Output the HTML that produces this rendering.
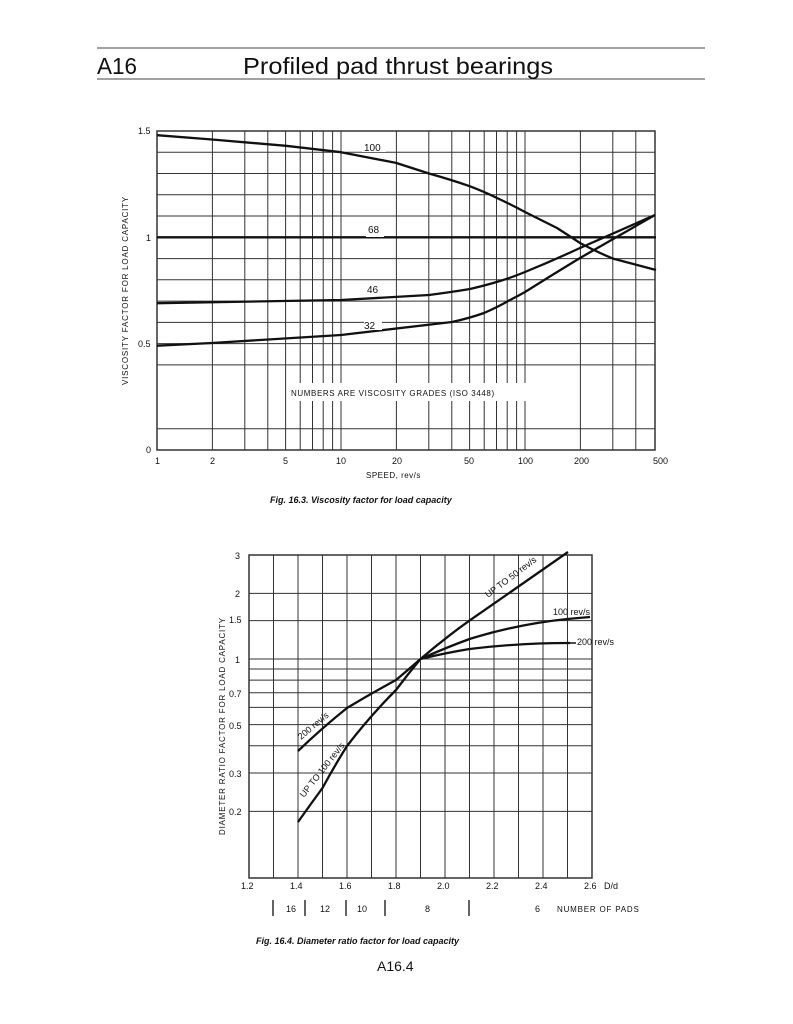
<!DOCTYPE html>
<html><head><meta charset="utf-8"><style>
html,body{margin:0;padding:0;background:#fff;}
svg{display:block;font-family:"Liberation Sans",sans-serif;}
</style></head><body>
<svg width="793" height="1024" viewBox="0 0 793 1024">
<line x1="97" y1="48" x2="705" y2="48" stroke="#444" stroke-width="1"/>
<line x1="97" y1="79" x2="705" y2="79" stroke="#444" stroke-width="1"/>
<text x="97" y="74" font-size="23" fill="#111" textLength="40" lengthAdjust="spacingAndGlyphs">A16</text>
<text x="243" y="74" font-size="23" fill="#111" textLength="310" lengthAdjust="spacingAndGlyphs">Profiled pad thrust bearings</text>

<!-- Chart 1 -->
<g stroke="#333" stroke-width="1" fill="none">
<path d="M157 152.2H655M157 173.5H655M157 194.8H655M157 216H655M157 258.6H655M157 279.8H655M157 301.1H655M157 322.4H655M157 343.6H655M157 364.9H655M157 428.7H655"/>
<path d="M212.4 131V450M244.8 131V450M267.8 131V450M285.6 131V450M300.2 131V450M312.5 131V450M323.2 131V450M332.6 131V450M341 131V450M396.4 131V450M428.8 131V450M451.8 131V450M469.6 131V450M484.2 131V450M496.5 131V450M507.2 131V450M516.6 131V450M525 131V450M580.4 131V450M612.8 131V450M635.8 131V450"/>
<rect x="157" y="131" width="498" height="319" stroke-width="1.5"/>
</g>
<rect x="288" y="383" width="254" height="18" fill="#fff"/>
<text x="291" y="396" font-size="8" fill="#111" letter-spacing="0.6">NUMBERS  ARE  VISCOSITY  GRADES  (ISO 3448)</text>
<g stroke="#111" stroke-width="2.3" fill="none" stroke-linejoin="round">
<path d="M157 135.2 L212 139.5 L286 145.8 L341 152.2 L396 162.9 L429 173.5 Q452 180 470 186.3 Q485 192 497 198 Q512 205 525 212 Q541 220 557 228 Q568 235 580 243 Q597 252 613 258.6 L656 270"/>
<path d="M157 237.3 H656"/>
<path d="M157 303.2 L341 300 L429 295 Q452 292 470 289 Q487 285 500 281 Q513 277 525 272 Q552 261 580 248 L655 215"/>
<path d="M157 345.7 L212 343 L341 335 L452 322 Q470 318 484 313 Q498 307 510 300 Q518 296 525 292 Q552 275 580 258 L655 215"/>
</g>
<g font-size="10" fill="#111">
<rect x="362" y="140" width="24" height="12" fill="#fff"/><text x="364" y="151">100</text>
<rect x="366" y="225" width="18" height="12" fill="#fff"/><text x="368" y="233">68</text>
<rect x="366" y="282" width="18" height="12" fill="#fff"/><text x="367" y="293">46</text>
<rect x="364" y="318" width="18" height="12" fill="#fff"/><text x="364" y="329">32</text>
</g>
<g font-size="9" fill="#111">
<text x="138" y="134">1.5</text><text x="146" y="241">1</text><text x="138" y="347">0.5</text><text x="146" y="453">0</text>
<text x="155" y="464">1</text><text x="210" y="464">2</text><text x="283" y="464">5</text><text x="336" y="464">10</text><text x="392" y="464">20</text><text x="464" y="464">50</text><text x="518" y="464">100</text><text x="574" y="464">200</text><text x="653" y="464">500</text>
<text x="366" y="478" font-size="8" letter-spacing="0.5">SPEED, rev/s</text>
<text transform="translate(128 385) rotate(-90)" font-size="8" letter-spacing="0.8">VISCOSITY  FACTOR  FOR  LOAD  CAPACITY</text>
</g>
<text x="270" y="503" font-size="9" font-style="italic" font-weight="bold" fill="#111">Fig. 16.3.  Viscosity factor for load capacity</text>

<!-- Chart 2 -->
<g stroke="#333" stroke-width="1" fill="none">
<path d="M249 593.4H592M249 620.6H592M249 659H592M249 669H592M249 680.1H592M249 692.8H592M249 707.4H592M249 724.6H592M249 745.8H592M249 773H592M249 811.4H592"/>
<path d="M273.5 555V878M298 555V878M322.5 555V878M347 555V878M371.5 555V878M396 555V878M420.5 555V878M445 555V878M469.5 555V878M494 555V878M518.5 555V878M543 555V878M567.5 555V878"/>
<rect x="249" y="555" width="343" height="323" stroke-width="1.5"/>
</g>
<g stroke="#111" stroke-width="2.3" fill="none" stroke-linejoin="round">
<path d="M420.5 659 Q445 638 469.5 620.6 L568 552"/>
<path d="M298 822 Q310 805 322.5 788 Q335 765 347 746 Q370 716 396 690 Q408 674 420.5 659"/>
<path d="M420.5 659 Q445 648 469.5 639 Q518 624 567.5 619 L590 617"/>
<path d="M298 751 Q322 728 347 708 Q372 693 396 680 Q408 670 420.5 659 Q445 653 469.5 649 Q518 643 570 643"/>
<path d="M570 643 L576 643" stroke-width="1.5"/>
</g>
<g font-size="9" fill="#111">
<text transform="translate(488 598) rotate(-37)">UP TO 50 rev/s</text>
<text transform="translate(304 798) rotate(-52)">UP TO 100 rev/s</text>
<text transform="translate(301 740) rotate(-40)">200 rev/s</text>
<text x="553" y="615">100 rev/s</text>
<text x="577" y="645">200 rev/s</text>
<text x="235" y="559">3</text><text x="235" y="597">2</text><text x="229" y="623">1.5</text><text x="235" y="663">1</text><text x="229" y="697">0.7</text><text x="229" y="729">0.5</text><text x="229" y="777">0.3</text><text x="229" y="815">0.2</text>
<text x="241" y="889">1.2</text><text x="290" y="889">1.4</text><text x="339" y="889">1.6</text><text x="388" y="889">1.8</text><text x="437" y="889">2.0</text><text x="486" y="889">2.2</text><text x="535" y="889">2.4</text><text x="584" y="889">2.6</text><text x="604" y="889">D/d</text>
<text x="286" y="912">16</text><text x="320" y="912">12</text><text x="357" y="912">10</text><text x="425" y="912">8</text><text x="535" y="912">6</text>
<text x="557" y="912" font-size="8" letter-spacing="0.8">NUMBER  OF  PADS</text>
<text transform="translate(225 835) rotate(-90)" font-size="8" letter-spacing="0.8">DIAMETER  RATIO  FACTOR  FOR  LOAD  CAPACITY</text>
</g>
<g stroke="#111" stroke-width="1.3">
<path d="M273 900V916M305 900V916M346 900V916M385 900V916M469 900V916"/>
</g>
<text x="256" y="944" font-size="9" font-style="italic" font-weight="bold" fill="#111">Fig. 16.4.  Diameter ratio factor for load capacity</text>
<text x="377" y="971" font-size="14" fill="#111">A16.4</text>
</svg>
</body></html>
